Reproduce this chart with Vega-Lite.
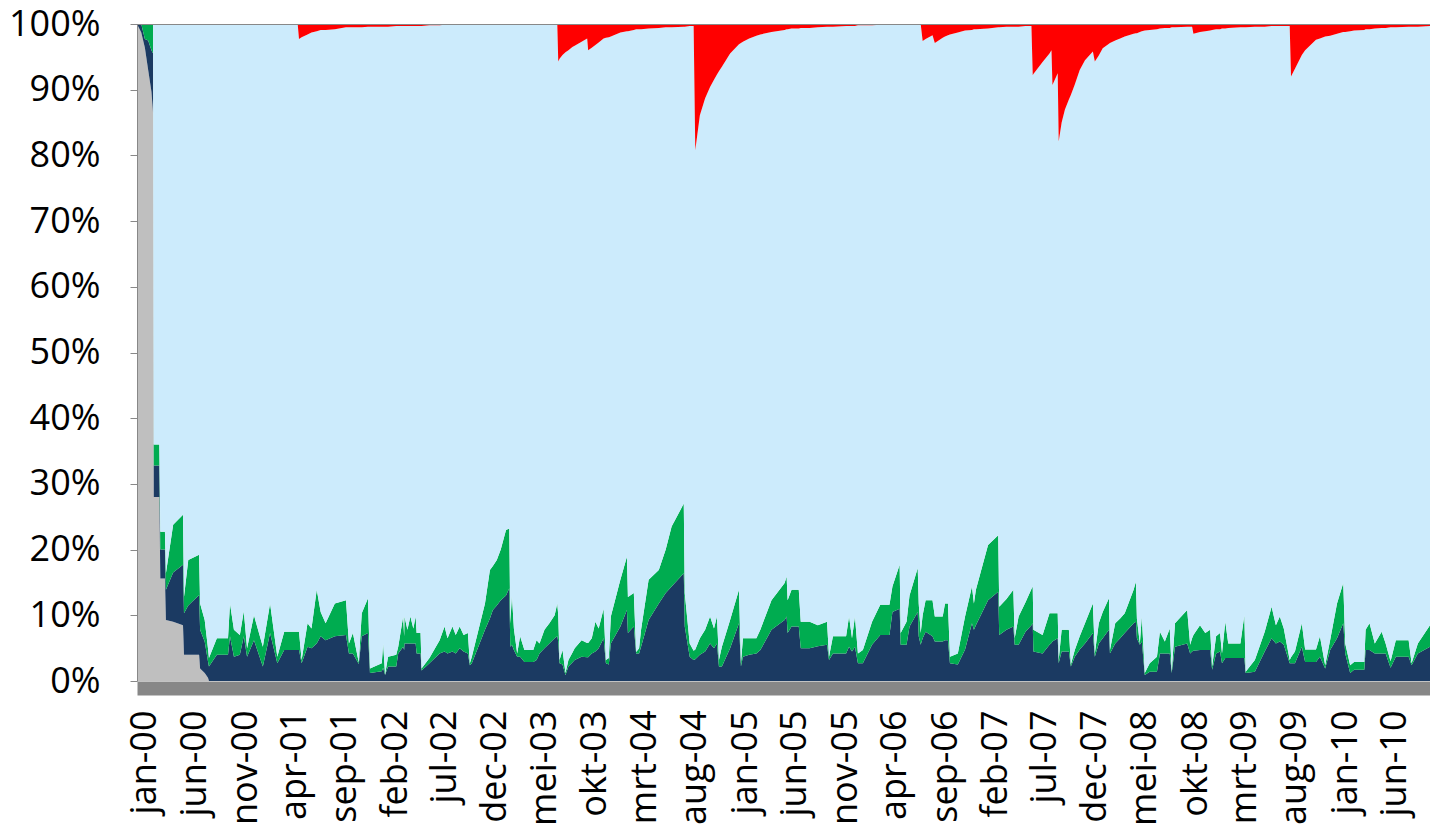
{
"$schema": "https://vega.github.io/schema/vega-lite/v6.json",
"width": 1293, "height": 657,
"autosize": {"type": "none"},
"padding": {"left": 137, "top": 24, "right": 0, "bottom": 143},
"background": "white",
"config": {"view": {"stroke": null}, "font": "Open Sans"},
"data": {"values": [
{"d":"1999-12-08","a":100,"b":0,"c":0,"e":0,"f":0},
{"d":"1999-12-21","a":98.7,"b":1.3,"c":0,"e":0,"f":0},
{"d":"2000-01-01","a":96.4,"b":1.3,"c":2.3,"e":0,"f":0},
{"d":"2000-01-11","a":93,"b":4.5,"c":2.5,"e":0,"f":0},
{"d":"2000-01-21","a":89.7,"b":6.3,"c":4,"e":0,"f":0},
{"d":"2000-01-26","a":86.4,"b":9.1,"c":4.5,"e":0,"f":0},
{"d":"2000-01-28","a":28,"b":4.8,"c":3.2,"e":64,"f":0},
{"d":"2000-02-14","a":28,"b":4.8,"c":3.2,"e":64,"f":0},
{"d":"2000-02-17","a":15.6,"b":4.4,"c":2.7,"e":77.3,"f":0},
{"d":"2000-03-02","a":15.6,"b":4.4,"c":2.7,"e":77.3,"f":0},
{"d":"2000-03-05","a":9.3,"b":4.6,"c":2.5,"e":83.6,"f":0},
{"d":"2000-03-27","a":9,"b":7.5,"c":7.3,"e":76.2,"f":0},
{"d":"2000-04-26","a":8.5,"b":9.2,"c":7.6,"e":74.7,"f":0},
{"d":"2000-04-29","a":4,"b":6.3,"c":2.5,"e":87.2,"f":0},
{"d":"2000-05-12","a":4,"b":7.5,"c":6.9,"e":81.6,"f":0},
{"d":"2000-06-14","a":4,"b":9.1,"c":6.1,"e":80.8,"f":0},
{"d":"2000-06-17","a":1.9,"b":5.9,"c":4,"e":88.2,"f":0},
{"d":"2000-07-01","a":1.2,"b":4.8,"c":3.3,"e":90.7,"f":0},
{"d":"2000-07-11","a":0.5,"b":2.5,"c":2,"e":95,"f":0},
{"d":"2000-07-14","a":0,"b":2.2,"c":1.3,"e":96.5,"f":0},
{"d":"2000-08-07","a":0,"b":4,"c":2.5,"e":93.5,"f":0},
{"d":"2000-09-10","a":0,"b":4,"c":2.5,"e":93.5,"f":0},
{"d":"2000-09-16","a":0,"b":6.8,"c":5,"e":88.2,"f":0},
{"d":"2000-09-28","a":0,"b":3.7,"c":4.1,"e":92.2,"f":0},
{"d":"2000-10-16","a":0,"b":4,"c":3,"e":93,"f":0},
{"d":"2000-10-28","a":0,"b":6.8,"c":3.8,"e":89.4,"f":0},
{"d":"2000-11-07","a":0,"b":3.7,"c":1.3,"e":95,"f":0},
{"d":"2000-11-28","a":0,"b":6.2,"c":3.8,"e":90,"f":0},
{"d":"2000-12-25","a":0,"b":2.2,"c":3,"e":94.8,"f":0},
{"d":"2001-01-16","a":0,"b":7.3,"c":4.5,"e":88.2,"f":0},
{"d":"2001-02-07","a":0,"b":2.7,"c":1,"e":96.3,"f":0},
{"d":"2001-02-28","a":0,"b":4.7,"c":2.8,"e":92.5,"f":0},
{"d":"2001-04-10","a":0,"b":4.7,"c":2.8,"e":92.5,"f":0},
{"d":"2001-04-14","a":0,"b":4.7,"c":2.8,"e":90.2,"f":2.3},
{"d":"2001-04-22","a":0,"b":2.7,"c":0.5,"e":94.8,"f":2},
{"d":"2001-05-10","a":0,"b":5.2,"c":3.6,"e":89.6,"f":1.6},
{"d":"2001-05-22","a":0,"b":5,"c":3,"e":90.7,"f":1.3},
{"d":"2001-06-07","a":0,"b":5.7,"c":8.2,"e":85,"f":1.1},
{"d":"2001-06-19","a":0,"b":6.8,"c":3.7,"e":88.6,"f":0.9},
{"d":"2001-07-04","a":0,"b":6.2,"c":2.6,"e":90.3,"f":0.9},
{"d":"2001-08-01","a":0,"b":6.8,"c":5,"e":87.4,"f":0.8},
{"d":"2001-09-04","a":0,"b":7,"c":5.3,"e":87.2,"f":0.5},
{"d":"2001-09-13","a":0,"b":4.2,"c":1.5,"e":93.8,"f":0.5},
{"d":"2001-09-25","a":0,"b":4.2,"c":3.1,"e":92.2,"f":0.5},
{"d":"2001-10-13","a":0,"b":2.6,"c":0.2,"e":96.7,"f":0.5},
{"d":"2001-10-22","a":0,"b":6.8,"c":3.5,"e":89.2,"f":0.5},
{"d":"2001-11-10","a":0,"b":7.3,"c":5.3,"e":87,"f":0.4},
{"d":"2001-11-16","a":0,"b":1.2,"c":0.7,"e":97.7,"f":0.4},
{"d":"2001-12-22","a":0,"b":1.5,"c":1.2,"e":96.9,"f":0.4},
{"d":"2001-12-26","a":0,"b":2,"c":3.7,"e":93.9,"f":0.4},
{"d":"2002-01-01","a":0,"b":0.9,"c":0.1,"e":98.6,"f":0.4},
{"d":"2002-01-10","a":0,"b":2.2,"c":1.5,"e":95.9,"f":0.4},
{"d":"2002-02-04","a":0,"b":2.2,"c":1.8,"e":95.7,"f":0.3},
{"d":"2002-02-10","a":0,"b":4.2,"c":1,"e":94.5,"f":0.3},
{"d":"2002-02-25","a":0,"b":5.2,"c":4.6,"e":89.9,"f":0.3},
{"d":"2002-02-28","a":0,"b":4.7,"c":2.1,"e":92.9,"f":0.3},
{"d":"2002-03-01","a":0,"b":5.7,"c":4.1,"e":89.9,"f":0.3},
{"d":"2002-03-10","a":0,"b":5.7,"c":2.1,"e":91.9,"f":0.3},
{"d":"2002-03-19","a":0,"b":5.7,"c":4.1,"e":89.9,"f":0.3},
{"d":"2002-03-28","a":0,"b":5.7,"c":2.3,"e":91.7,"f":0.3},
{"d":"2002-04-04","a":0,"b":5.7,"c":4.1,"e":89.9,"f":0.3},
{"d":"2002-04-07","a":0,"b":4.2,"c":3.1,"e":92.4,"f":0.3},
{"d":"2002-04-19","a":0,"b":4.2,"c":3.1,"e":92.4,"f":0.3},
{"d":"2002-04-22","a":0,"b":1.6,"c":0.3,"e":97.8,"f":0.3},
{"d":"2002-05-16","a":0,"b":2.7,"c":0.8,"e":96.3,"f":0.2},
{"d":"2002-06-16","a":0,"b":4.2,"c":2,"e":93.6,"f":0.2},
{"d":"2002-07-01","a":0,"b":4.5,"c":3.8,"e":91.6,"f":0.1},
{"d":"2002-07-10","a":0,"b":4.2,"c":2.3,"e":93.4,"f":0.1},
{"d":"2002-07-25","a":0,"b":4.5,"c":3.8,"e":91.6,"f":0.1},
{"d":"2002-08-04","a":0,"b":4.2,"c":2.8,"e":92.9,"f":0.1},
{"d":"2002-08-16","a":0,"b":5,"c":3.3,"e":91.7,"f":0},
{"d":"2002-08-28","a":0,"b":4.5,"c":2.5,"e":93,"f":0},
{"d":"2002-09-10","a":0,"b":4.2,"c":3.1,"e":92.7,"f":0},
{"d":"2002-09-16","a":0,"b":2.4,"c":0.3,"e":97.3,"f":0},
{"d":"2002-09-22","a":0,"b":2.7,"c":1,"e":96.3,"f":0},
{"d":"2002-11-01","a":0,"b":7.8,"c":4,"e":88.2,"f":0},
{"d":"2002-11-16","a":0,"b":9.5,"c":7.4,"e":83.1,"f":0},
{"d":"2002-11-25","a":0,"b":10.8,"c":6.7,"e":82.5,"f":0},
{"d":"2002-12-07","a":0,"b":11.5,"c":6.9,"e":81.6,"f":0},
{"d":"2002-12-19","a":0,"b":12.3,"c":7.7,"e":80,"f":0},
{"d":"2003-01-04","a":0,"b":13,"c":10,"e":77,"f":0},
{"d":"2003-01-14","a":0,"b":14.1,"c":9.1,"e":76.8,"f":0},
{"d":"2003-01-17","a":0,"b":5.2,"c":3.6,"e":91.2,"f":0},
{"d":"2003-01-22","a":0,"b":5.5,"c":7.5,"e":87,"f":0},
{"d":"2003-01-28","a":0,"b":4.7,"c":3.3,"e":92,"f":0},
{"d":"2003-02-07","a":0,"b":3.7,"c":0.5,"e":95.8,"f":0},
{"d":"2003-02-16","a":0,"b":3.7,"c":3.1,"e":93.2,"f":0},
{"d":"2003-03-01","a":0,"b":2.9,"c":1.8,"e":95.3,"f":0},
{"d":"2003-03-28","a":0,"b":2.9,"c":1.8,"e":95.3,"f":0},
{"d":"2003-04-07","a":0,"b":3.2,"c":3,"e":93.8,"f":0},
{"d":"2003-04-16","a":0,"b":4.2,"c":1.5,"e":94.3,"f":0},
{"d":"2003-05-01","a":0,"b":5,"c":2.8,"e":92.2,"f":0},
{"d":"2003-05-16","a":0,"b":5.7,"c":3.1,"e":91.2,"f":0},
{"d":"2003-06-01","a":0,"b":6.5,"c":3.5,"e":90,"f":0},
{"d":"2003-06-09","a":0,"b":6.8,"c":5,"e":88.2,"f":0},
{"d":"2003-06-12","a":0,"b":6,"c":4,"e":84.3,"f":5.7},
{"d":"2003-06-16","a":0,"b":2.7,"c":0.5,"e":91.5,"f":5.3},
{"d":"2003-06-25","a":0,"b":2.5,"c":2.2,"e":90.6,"f":4.7},
{"d":"2003-07-04","a":0,"b":0.9,"c":0.3,"e":94.5,"f":4.3},
{"d":"2003-07-13","a":0,"b":2.2,"c":1,"e":92.8,"f":4},
{"d":"2003-07-25","a":0,"b":2.8,"c":1.5,"e":92.2,"f":3.5},
{"d":"2003-08-01","a":0,"b":3.2,"c":1.8,"e":91.7,"f":3.3},
{"d":"2003-08-22","a":0,"b":3.7,"c":2.5,"e":91.1,"f":2.7},
{"d":"2003-09-08","a":0,"b":3.6,"c":2.2,"e":92,"f":2.2},
{"d":"2003-09-11","a":0,"b":3.6,"c":2.2,"e":90.2,"f":4},
{"d":"2003-09-22","a":0,"b":4.2,"c":2.3,"e":89.9,"f":3.6},
{"d":"2003-10-03","a":0,"b":4.5,"c":4.5,"e":87.8,"f":3.2},
{"d":"2003-10-13","a":0,"b":5,"c":3,"e":89.2,"f":2.8},
{"d":"2003-10-28","a":0,"b":6.5,"c":4.5,"e":86.8,"f":2.2},
{"d":"2003-11-04","a":0,"b":2.7,"c":0.5,"e":94.7,"f":2.1},
{"d":"2003-11-13","a":0,"b":2.5,"c":1,"e":94.5,"f":2},
{"d":"2003-11-19","a":0,"b":5.7,"c":4.1,"e":88.3,"f":1.9},
{"d":"2003-12-18","a":0,"b":8.3,"c":7.1,"e":83.3,"f":1.3},
{"d":"2004-01-07","a":0,"b":10.8,"c":8.1,"e":80,"f":1.1},
{"d":"2004-01-10","a":0,"b":7.3,"c":5.5,"e":86.1,"f":1.1},
{"d":"2004-01-28","a":0,"b":8.3,"c":5.1,"e":85.7,"f":0.9},
{"d":"2004-02-04","a":0,"b":4.2,"c":0.2,"e":94.8,"f":0.8},
{"d":"2004-02-13","a":0,"b":4.2,"c":0.8,"e":94.2,"f":0.8},
{"d":"2004-02-19","a":0,"b":5.2,"c":2.6,"e":91.4,"f":0.8},
{"d":"2004-03-13","a":0,"b":9.3,"c":6.1,"e":83.9,"f":0.7},
{"d":"2004-04-13","a":0,"b":11.8,"c":5.1,"e":82.5,"f":0.6},
{"d":"2004-05-04","a":0,"b":13.4,"c":6.6,"e":79.5,"f":0.5},
{"d":"2004-05-22","a":0,"b":14.4,"c":9.1,"e":76,"f":0.5},
{"d":"2004-06-28","a":0,"b":16.4,"c":10.6,"e":72.6,"f":0.4},
{"d":"2004-07-01","a":0,"b":8.3,"c":5.1,"e":86.2,"f":0.4},
{"d":"2004-07-16","a":0,"b":3.7,"c":2,"e":94,"f":0.3},
{"d":"2004-07-28","a":0,"b":3.2,"c":1.4,"e":95.1,"f":0.3},
{"d":"2004-08-02","a":0,"b":3.3,"c":1.5,"e":76,"f":19.2},
{"d":"2004-08-16","a":0,"b":4,"c":2.5,"e":79.6,"f":13.9},
{"d":"2004-09-01","a":0,"b":4.5,"c":3.3,"e":80.9,"f":11.3},
{"d":"2004-09-16","a":0,"b":5.7,"c":4.1,"e":80.6,"f":9.6},
{"d":"2004-09-28","a":0,"b":5,"c":3,"e":83.5,"f":8.5},
{"d":"2004-10-07","a":0,"b":5.7,"c":4.1,"e":82.5,"f":7.7},
{"d":"2004-10-13","a":0,"b":2.2,"c":1,"e":89.6,"f":7.2},
{"d":"2004-10-22","a":0,"b":2.2,"c":3,"e":88.3,"f":6.5},
{"d":"2004-11-16","a":0,"b":5,"c":4.3,"e":86.2,"f":4.5},
{"d":"2004-12-13","a":0,"b":8.8,"c":5.1,"e":83,"f":3.1},
{"d":"2004-12-19","a":0,"b":2.2,"c":0.5,"e":94.4,"f":2.9},
{"d":"2004-12-25","a":0,"b":3.7,"c":2.8,"e":90.8,"f":2.7},
{"d":"2005-01-13","a":0,"b":4,"c":2.5,"e":91.3,"f":2.2},
{"d":"2005-02-04","a":0,"b":4.2,"c":2.3,"e":91.7,"f":1.8},
{"d":"2005-02-16","a":0,"b":4.7,"c":3.1,"e":90.6,"f":1.6},
{"d":"2005-03-22","a":0,"b":7.8,"c":4.5,"e":86.5,"f":1.2},
{"d":"2005-05-01","a":0,"b":9.3,"c":5.6,"e":84.2,"f":0.9},
{"d":"2005-05-07","a":0,"b":9.8,"c":6.1,"e":83.3,"f":0.8},
{"d":"2005-05-10","a":0,"b":7.3,"c":5,"e":86.9,"f":0.8},
{"d":"2005-05-22","a":0,"b":8.3,"c":5.6,"e":85.4,"f":0.7},
{"d":"2005-06-13","a":0,"b":8.3,"c":5.6,"e":85.4,"f":0.7},
{"d":"2005-06-19","a":0,"b":5,"c":4,"e":90.4,"f":0.6},
{"d":"2005-07-16","a":0,"b":5,"c":4,"e":90.4,"f":0.6},
{"d":"2005-08-10","a":0,"b":5.3,"c":3.2,"e":91,"f":0.5},
{"d":"2005-09-07","a":0,"b":5.5,"c":3.5,"e":90.6,"f":0.4},
{"d":"2005-09-13","a":0,"b":3.2,"c":0.5,"e":95.9,"f":0.4},
{"d":"2005-09-25","a":0,"b":4.2,"c":2.6,"e":92.8,"f":0.4},
{"d":"2005-11-04","a":0,"b":4.2,"c":2.6,"e":92.9,"f":0.3},
{"d":"2005-11-13","a":0,"b":5.2,"c":4.6,"e":89.9,"f":0.3},
{"d":"2005-11-22","a":0,"b":4.5,"c":2,"e":93.2,"f":0.3},
{"d":"2005-12-01","a":0,"b":5.2,"c":4.6,"e":89.9,"f":0.3},
{"d":"2005-12-10","a":0,"b":2.7,"c":1.5,"e":95.6,"f":0.2},
{"d":"2005-12-25","a":0,"b":2.7,"c":2,"e":95.1,"f":0.2},
{"d":"2006-01-22","a":0,"b":5.5,"c":3.5,"e":90.8,"f":0.2},
{"d":"2006-02-16","a":0,"b":7,"c":4.6,"e":88.3,"f":0.1},
{"d":"2006-03-16","a":0,"b":7,"c":4.6,"e":88.3,"f":0.1},
{"d":"2006-03-25","a":0,"b":10.5,"c":3.9,"e":85.5,"f":0.1},
{"d":"2006-04-16","a":0,"b":11,"c":6.7,"e":82.3,"f":0},
{"d":"2006-04-19","a":0,"b":5.5,"c":1.8,"e":92.7,"f":0},
{"d":"2006-05-07","a":0,"b":5.5,"c":3.5,"e":91,"f":0},
{"d":"2006-05-16","a":0,"b":8.3,"c":4.7,"e":87,"f":0},
{"d":"2006-06-10","a":0,"b":10.5,"c":6.7,"e":82.8,"f":0},
{"d":"2006-06-13","a":0,"b":6.8,"c":5,"e":88.2,"f":0},
{"d":"2006-06-19","a":0,"b":5.5,"c":1.8,"e":92.7,"f":0},
{"d":"2006-06-25","a":0,"b":6.5,"c":3.5,"e":87.4,"f":2.6},
{"d":"2006-07-04","a":0,"b":7.5,"c":4.8,"e":85.4,"f":2.3},
{"d":"2006-07-25","a":0,"b":6.8,"c":5.5,"e":86,"f":1.7},
{"d":"2006-08-01","a":0,"b":6,"c":3.8,"e":87.3,"f":2.9},
{"d":"2006-08-25","a":0,"b":6,"c":3.8,"e":88.1,"f":2.1},
{"d":"2006-09-01","a":0,"b":6.2,"c":5.6,"e":86.3,"f":1.9},
{"d":"2006-09-10","a":0,"b":6.2,"c":5.6,"e":86.5,"f":1.7},
{"d":"2006-09-16","a":0,"b":2.7,"c":1,"e":94.7,"f":1.6},
{"d":"2006-10-10","a":0,"b":2.5,"c":1.7,"e":94.5,"f":1.3},
{"d":"2006-11-01","a":0,"b":4.8,"c":5,"e":89.2,"f":1},
{"d":"2006-11-22","a":0,"b":8.8,"c":5.6,"e":84.7,"f":0.9},
{"d":"2006-11-28","a":0,"b":7.8,"c":4,"e":87.4,"f":0.8},
{"d":"2006-12-04","a":0,"b":8.5,"c":5.4,"e":85.3,"f":0.8},
{"d":"2007-01-10","a":0,"b":12.3,"c":8.4,"e":78.6,"f":0.7},
{"d":"2007-02-10","a":0,"b":13.6,"c":8.6,"e":77.3,"f":0.5},
{"d":"2007-02-13","a":0,"b":7,"c":4.3,"e":88.2,"f":0.5},
{"d":"2007-03-07","a":0,"b":7.8,"c":4.7,"e":87.1,"f":0.4},
{"d":"2007-03-28","a":0,"b":8.3,"c":5.6,"e":85.7,"f":0.4},
{"d":"2007-04-01","a":0,"b":5.5,"c":1,"e":93.1,"f":0.4},
{"d":"2007-04-13","a":0,"b":5.5,"c":4.3,"e":89.8,"f":0.4},
{"d":"2007-05-04","a":0,"b":7.5,"c":4.5,"e":87.7,"f":0.3},
{"d":"2007-05-22","a":0,"b":8.5,"c":5.5,"e":85.7,"f":0.3},
{"d":"2007-05-26","a":0,"b":8.8,"c":5.6,"e":77.8,"f":7.8},
{"d":"2007-05-28","a":0,"b":4.5,"c":3.3,"e":84.6,"f":7.6},
{"d":"2007-06-25","a":0,"b":4.2,"c":2.8,"e":87.2,"f":5.8},
{"d":"2007-07-16","a":0,"b":5.5,"c":4.8,"e":85.2,"f":4.5},
{"d":"2007-07-22","a":0,"b":5.8,"c":4.5,"e":85.7,"f":4},
{"d":"2007-07-25","a":0,"b":6,"c":4.3,"e":80.4,"f":9.3},
{"d":"2007-08-10","a":0,"b":6.5,"c":3.8,"e":82.2,"f":7.5},
{"d":"2007-08-13","a":0,"b":2.7,"c":0.5,"e":78.9,"f":17.9},
{"d":"2007-08-22","a":0,"b":4.5,"c":3.3,"e":77.2,"f":15},
{"d":"2007-09-01","a":0,"b":4.5,"c":3.3,"e":79.2,"f":13},
{"d":"2007-09-13","a":0,"b":4.5,"c":3.3,"e":80.7,"f":11.5},
{"d":"2007-09-19","a":0,"b":2.2,"c":0.3,"e":86.7,"f":10.8},
{"d":"2007-10-01","a":0,"b":3.7,"c":1,"e":86.1,"f":9.2},
{"d":"2007-10-16","a":0,"b":4.8,"c":2,"e":86.2,"f":7},
{"d":"2007-11-01","a":0,"b":5.7,"c":3.1,"e":85.7,"f":5.5},
{"d":"2007-11-25","a":0,"b":7.3,"c":4.5,"e":84,"f":4.2},
{"d":"2007-12-01","a":0,"b":3.7,"c":0.5,"e":90.1,"f":5.7},
{"d":"2007-12-13","a":0,"b":5.7,"c":3.1,"e":86.4,"f":4.8},
{"d":"2007-12-25","a":0,"b":6.5,"c":4,"e":85.8,"f":3.7},
{"d":"2008-01-13","a":0,"b":7.8,"c":4.8,"e":84.4,"f":3},
{"d":"2008-01-16","a":0,"b":4.2,"c":0.5,"e":92.4,"f":2.9},
{"d":"2008-02-01","a":0,"b":5.7,"c":3.1,"e":88.7,"f":2.5},
{"d":"2008-02-16","a":0,"b":6.5,"c":3,"e":88.3,"f":2.2},
{"d":"2008-03-01","a":0,"b":7.3,"c":3,"e":87.8,"f":1.9},
{"d":"2008-03-28","a":0,"b":8.8,"c":5.1,"e":84.6,"f":1.5},
{"d":"2008-04-04","a":0,"b":9,"c":6.1,"e":83.5,"f":1.4},
{"d":"2008-04-07","a":0,"b":6.5,"c":3,"e":89.1,"f":1.4},
{"d":"2008-04-16","a":0,"b":5.5,"c":0.2,"e":93.1,"f":1.2},
{"d":"2008-04-22","a":0,"b":6,"c":3.8,"e":89.1,"f":1.1},
{"d":"2008-05-01","a":0,"b":0.9,"c":0.3,"e":97.8,"f":1},
{"d":"2008-05-16","a":0,"b":1.4,"c":1.3,"e":96.4,"f":0.9},
{"d":"2008-06-07","a":0,"b":1.4,"c":2.3,"e":95.5,"f":0.8},
{"d":"2008-06-16","a":0,"b":4.2,"c":3.3,"e":91.8,"f":0.7},
{"d":"2008-07-01","a":0,"b":4.2,"c":1.8,"e":93.4,"f":0.6},
{"d":"2008-07-16","a":0,"b":4.2,"c":3.8,"e":91.4,"f":0.6},
{"d":"2008-07-22","a":0,"b":1.2,"c":0.2,"e":98.1,"f":0.5},
{"d":"2008-08-01","a":0,"b":5.2,"c":3.6,"e":90.7,"f":0.5},
{"d":"2008-09-07","a":0,"b":5.7,"c":5.1,"e":88.8,"f":0.4},
{"d":"2008-09-16","a":0,"b":4.2,"c":1.3,"e":94.1,"f":0.4},
{"d":"2008-09-22","a":0,"b":4.5,"c":2,"e":93.1,"f":0.4},
{"d":"2008-09-26","a":0,"b":4.6,"c":2.4,"e":91.5,"f":1.5},
{"d":"2008-10-16","a":0,"b":4.7,"c":3.8,"e":90.3,"f":1.2},
{"d":"2008-11-01","a":0,"b":4.7,"c":2.6,"e":91.6,"f":1.1},
{"d":"2008-11-16","a":0,"b":4.7,"c":3.1,"e":91.2,"f":1},
{"d":"2008-11-22","a":0,"b":1.7,"c":0.5,"e":96.9,"f":0.9},
{"d":"2008-12-04","a":0,"b":4.2,"c":2.6,"e":92.4,"f":0.8},
{"d":"2008-12-16","a":0,"b":4.5,"c":2.8,"e":91.9,"f":0.8},
{"d":"2008-12-22","a":0,"b":2.7,"c":1.5,"e":95.1,"f":0.7},
{"d":"2009-01-01","a":0,"b":3.5,"c":5.5,"e":90.3,"f":0.7},
{"d":"2009-01-10","a":0,"b":3.5,"c":2.2,"e":93.7,"f":0.6},
{"d":"2009-02-16","a":0,"b":3.5,"c":2.2,"e":93.8,"f":0.5},
{"d":"2009-02-28","a":0,"b":3.5,"c":6.5,"e":89.5,"f":0.5},
{"d":"2009-03-04","a":0,"b":1.2,"c":0.2,"e":98.1,"f":0.5},
{"d":"2009-04-01","a":0,"b":1.4,"c":1.8,"e":96.4,"f":0.4},
{"d":"2009-05-01","a":0,"b":4.5,"c":3,"e":92.1,"f":0.4},
{"d":"2009-05-22","a":0,"b":6.5,"c":4.8,"e":88.4,"f":0.3},
{"d":"2009-06-04","a":0,"b":5.7,"c":2.8,"e":91.2,"f":0.3},
{"d":"2009-06-16","a":0,"b":6,"c":3.8,"e":89.9,"f":0.3},
{"d":"2009-06-28","a":0,"b":5.5,"c":2.5,"e":91.7,"f":0.3},
{"d":"2009-07-16","a":0,"b":2.7,"c":0.5,"e":96.5,"f":0.3},
{"d":"2009-07-20","a":0,"b":2.7,"c":0.9,"e":88.4,"f":8},
{"d":"2009-08-01","a":0,"b":2.7,"c":1.8,"e":88.7,"f":6.8},
{"d":"2009-08-22","a":0,"b":5.2,"c":3.6,"e":86.5,"f":4.7},
{"d":"2009-09-01","a":0,"b":2.9,"c":1.9,"e":91.2,"f":4},
{"d":"2009-10-04","a":0,"b":2.9,"c":1.9,"e":92.8,"f":2.4},
{"d":"2009-10-16","a":0,"b":3.7,"c":3.1,"e":91,"f":2.2},
{"d":"2009-11-01","a":0,"b":1.9,"c":0.5,"e":95.7,"f":1.9},
{"d":"2009-11-16","a":0,"b":4.7,"c":1.5,"e":92,"f":1.8},
{"d":"2009-12-07","a":0,"b":6.5,"c":5.3,"e":86.7,"f":1.5},
{"d":"2009-12-26","a":0,"b":8.8,"c":6.1,"e":83.9,"f":1.2},
{"d":"2010-01-01","a":0,"b":4.2,"c":1.5,"e":93.1,"f":1.2},
{"d":"2010-01-16","a":0,"b":1.2,"c":1.2,"e":96.5,"f":1.1},
{"d":"2010-01-28","a":0,"b":1.7,"c":1.2,"e":96.1,"f":1},
{"d":"2010-02-28","a":0,"b":1.7,"c":1.2,"e":96.2,"f":0.9},
{"d":"2010-03-04","a":0,"b":4.7,"c":3.1,"e":91.4,"f":0.8},
{"d":"2010-03-16","a":0,"b":4.7,"c":4.1,"e":90.4,"f":0.8},
{"d":"2010-04-01","a":0,"b":4.2,"c":1.5,"e":93.6,"f":0.7},
{"d":"2010-04-22","a":0,"b":4.2,"c":3.3,"e":91.9,"f":0.6},
{"d":"2010-05-04","a":0,"b":4.2,"c":1.5,"e":93.7,"f":0.6},
{"d":"2010-05-19","a":0,"b":2,"c":1,"e":96.5,"f":0.5},
{"d":"2010-06-04","a":0,"b":3.7,"c":2.5,"e":93.3,"f":0.5},
{"d":"2010-07-13","a":0,"b":3.7,"c":2.5,"e":93.4,"f":0.4},
{"d":"2010-07-22","a":0,"b":2.4,"c":0.3,"e":96.9,"f":0.4},
{"d":"2010-08-10","a":0,"b":4.2,"c":1.5,"e":93.9,"f":0.4},
{"d":"2010-09-16","a":0,"b":5.2,"c":3.3,"e":91.2,"f":0.3}
]},
"transform": [{"fold": ["a", "b", "c", "e", "f"], "as": ["key", "value"]}],
"mark": {"type": "area", "interpolate": "linear"},
"encoding": {
  "x": {
    "field": "d", "type": "temporal",
    "scale": {"type": "utc", "domain": [{"year": 1999, "month": 12, "date": 8, "utc": true}, {"year": 2010, "month": 9, "date": 16, "utc": true}]},
    "axis": {
      "title": null, "grid": false, "ticks": false, "tickSize": 0,
      "values": [
        {"year": 2000, "month": 1, "date": 1, "utc": true},
        {"year": 2000, "month": 6, "date": 1, "utc": true},
        {"year": 2000, "month": 11, "date": 1, "utc": true},
        {"year": 2001, "month": 4, "date": 1, "utc": true},
        {"year": 2001, "month": 9, "date": 1, "utc": true},
        {"year": 2002, "month": 2, "date": 1, "utc": true},
        {"year": 2002, "month": 7, "date": 1, "utc": true},
        {"year": 2002, "month": 12, "date": 1, "utc": true},
        {"year": 2003, "month": 5, "date": 1, "utc": true},
        {"year": 2003, "month": 10, "date": 1, "utc": true},
        {"year": 2004, "month": 3, "date": 1, "utc": true},
        {"year": 2004, "month": 8, "date": 1, "utc": true},
        {"year": 2005, "month": 1, "date": 1, "utc": true},
        {"year": 2005, "month": 6, "date": 1, "utc": true},
        {"year": 2005, "month": 11, "date": 1, "utc": true},
        {"year": 2006, "month": 4, "date": 1, "utc": true},
        {"year": 2006, "month": 9, "date": 1, "utc": true},
        {"year": 2007, "month": 2, "date": 1, "utc": true},
        {"year": 2007, "month": 7, "date": 1, "utc": true},
        {"year": 2007, "month": 12, "date": 1, "utc": true},
        {"year": 2008, "month": 5, "date": 1, "utc": true},
        {"year": 2008, "month": 10, "date": 1, "utc": true},
        {"year": 2009, "month": 3, "date": 1, "utc": true},
        {"year": 2009, "month": 8, "date": 1, "utc": true},
        {"year": 2010, "month": 1, "date": 1, "utc": true},
        {"year": 2010, "month": 6, "date": 1, "utc": true}
      ],
      "labelExpr": "['jan','feb','mrt','apr','mei','jun','jul','aug','sep','okt','nov','dec'][utcmonth(datum.value)] + '-' + utcFormat(datum.value, '%y')",
      "labelAngle": 270, "labelAlign": "right", "labelBaseline": "middle",
      "labelFontSize": 36, "labelColor": "#000000", "labelPadding": 22,
      "labelOverlap": false, "labelFlush": false, "labelBound": false,
      "domainColor": "#878787", "domainWidth": 14, "offset": 7
    }
  },
  "y": {
    "field": "value", "type": "quantitative", "stack": "normalize",
    "scale": {"domain": [0, 1], "nice": false},
    "axis": {
      "title": null, "values": [0, 0.1, 0.2, 0.3, 0.4, 0.5, 0.6, 0.7, 0.8, 0.9, 1],
      "format": ".0%", "labelFontSize": 36, "labelColor": "#000000", "labelPadding": 30,
      "tickSize": 7, "tickColor": "#888888", "domainColor": "#888888",
      "grid": true, "gridColor": "#888888",
      "gridOpacity": {"condition": {"test": "datum.value >= 0.999", "value": 1}, "value": 0},
      "labelFlush": false, "zindex": 1
    }
  },
  "order": {"field": "key", "type": "nominal", "sort": "ascending"},
  "color": {
    "field": "key", "type": "nominal", "legend": null,
    "scale": {"domain": ["a", "b", "c", "e", "f"], "range": ["#BFBFBF", "#1B3A62", "#00AC50", "#CCEBFC", "#FF0000"]}
  }
}
}
